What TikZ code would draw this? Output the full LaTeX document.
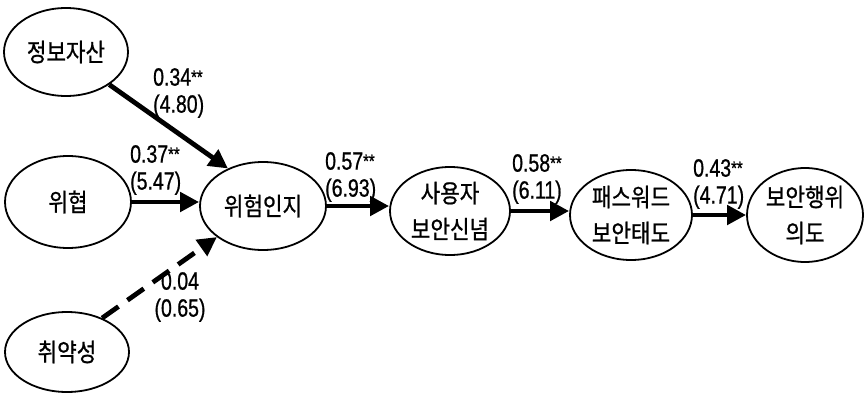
\documentclass[tikz,border=0pt]{standalone}
\usepackage{fontspec}
\newfontfamily\kofont[FakeStretch=0.85,FakeBold=0.8]{Noto Sans CJK KR}
\newfontfamily\numfont[FakeStretch=0.78,FakeBold=0.8]{Liberation Sans}
\usetikzlibrary{arrows.meta,shapes.geometric}
\newcommand{\stars}{\raisebox{2pt}{\fontsize{19}{19}\selectfont **}}
\tikzset{
  var/.style={draw, ellipse, line width=1.8pt, inner sep=0pt, font=\kofont\fontsize{25}{36}\selectfont, align=center},
  arr/.style={line width=4.8pt, -{Triangle[length=19pt,width=19pt]}},
  darr/.style={arr, dash pattern=on 20pt off 11pt},
  lbl/.style={font=\numfont\fontsize{25}{27}\selectfont, inner sep=0pt, align=left, anchor=west},
}
\begin{document}
\begin{tikzpicture}[x=1pt,y=-1pt]
\useasboundingbox (0,0) rectangle (864,393);
\node[var, minimum width=124pt, minimum height=88pt] (info) at (66,52) {정보자산};
\node[var, minimum width=126pt, minimum height=92pt] (threat) at (68,202) {위협};
\node[var, minimum width=124pt, minimum height=80pt] (vuln) at (67,352) {취약성};
\node[var, minimum width=126pt, minimum height=88pt] (risk) at (263,206) {위험인지};
\node[var, minimum width=120pt, minimum height=88pt] (belief) at (450,211) {사용자\\보안신념};
\node[var, minimum width=122pt, minimum height=90pt] (pw) at (631,215) {패스워드\\보안태도};
\node[var, minimum width=116pt, minimum height=94pt] (intent) at (805,215) {보안행위\\의도};

\draw[arr] (info.-37) -- (risk.133);
\draw[arr] (threat.east) -- (threat.east -| risk.west);
\draw[darr] (vuln.44) -- (risk.214);
\draw[arr] (risk.east) -- (risk.east -| belief.west);
\draw[arr] (belief.east) -- (belief.east -| pw.west);
\draw[arr] (pw.east) -- (pw.east -| intent.west);

\node[lbl] (l1) at (153,93) {0.34\stars\\(4.80)};
\node[lbl] (l2) at (130,170) {0.37\stars\\(5.47)};
\node[lbl, align=center, anchor=center] (l3) at (180,297) {0.04\\(0.65)};
\node[lbl] (l4) at (325,177) {0.57\stars\\(6.93)};
\node[lbl] (l5) at (512,179) {0.58\stars\\(6.11)};
\node[lbl] (l6) at (693,184) {0.43\stars\\(4.71)};
\end{tikzpicture}
\end{document}
